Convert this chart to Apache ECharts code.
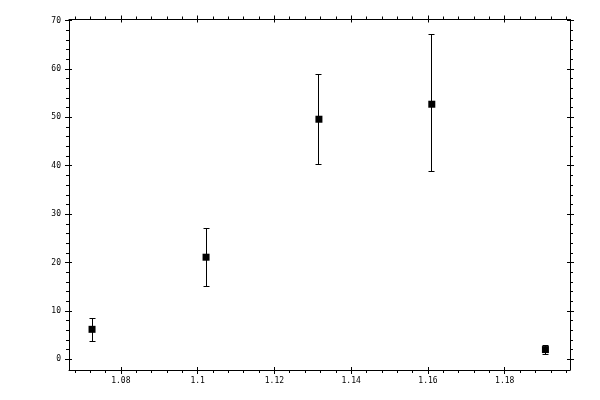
<!DOCTYPE html>
<html>
<head>
<meta charset="utf-8">
<script src="https://cdn.jsdelivr.net/npm/echarts@6/dist/echarts.min.js"></script>
<style>
  html, body { margin: 0; padding: 0; background: #fff; }
  #chart { width: 600px; height: 400px; }
</style>
</head>
<body>
<div id="chart"></div>
<script>
// 数据点
var xValues = [1.0725, 1.1022, 1.1316, 1.161, 1.1906];
var yValues = [6.2, 21.1, 49.6, 52.7, 2.02];
var yLow = [3.7, 15.1, 40.3, 38.7, 1.1];
var yHigh = [8.5, 27.0, 58.8, 67.0, 2.95];

// 刻度
var xMajor = [1.08, 1.1, 1.12, 1.14, 1.16, 1.18];
var yMajor = [0, 10, 20, 30, 40, 50, 60, 70];
var xRange = [1.0665, 1.197];
var yRange = [-2.2, 70.2];

var xMinor = [];
for (var i = 0; i <= 32; i++) {
  var v = +(1.068 + i * 0.004).toFixed(3);
  if (v <= xRange[1] && xMajor.indexOf(v) < 0) xMinor.push(v);
}
var yMinor = [];
for (var j = 1; j <= 35; j++) {
  var w = j * 2;
  if (yMajor.indexOf(w) < 0) yMinor.push(w);
}

var labelFont = { color: '#000', fontFamily: 'DejaVu Sans Mono', fontSize: 8 };

// 一条轴 = 轴线+外刻度, 内刻度, 次刻度 三层叠加
function axisSet(kind, pos, range, major, minor, showLabel) {
  var common = { type: 'value', position: pos, min: range[0], max: range[1], splitLine: { show: false }, scale: true };
  var line = Object.assign({}, common, {
    axisLine: { show: true, onZero: false, lineStyle: { color: '#000', width: 1 } },
    axisTick: { show: true, inside: false, length: 4, customValues: major, lineStyle: { color: '#000', width: 1 } },
    axisLabel: showLabel ? Object.assign({ show: true, customValues: major, margin: kind === 'x' ? 7 : 8,
      formatter: function (val) { return String(+val.toFixed(3)); } }, labelFont) : { show: false }
  });
  var inner = Object.assign({}, common, {
    axisLine: { show: false, onZero: false },
    axisTick: { show: true, inside: true, length: 3, customValues: major, lineStyle: { color: '#000', width: 1 } },
    axisLabel: { show: false }
  });
  var small = Object.assign({}, common, {
    axisLine: { show: false, onZero: false },
    axisTick: { show: true, inside: false, length: 3, customValues: minor, lineStyle: { color: '#000', width: 1 } },
    axisLabel: { show: false }
  });
  return [line, inner, small];
}

var xAxes = axisSet('x', 'bottom', xRange, xMajor, xMinor, true).concat(axisSet('x', 'top', xRange, xMajor, xMinor, false));
var yAxes = axisSet('y', 'left', yRange, yMajor, yMinor, true).concat(axisSet('y', 'right', yRange, yMajor, yMinor, false));

var errData = xValues.map(function (x, k) { return [x, yLow[k], yHigh[k]]; });
var pointData = xValues.map(function (x, k) { return [x, yValues[k]]; });

function crisp(p) { return Math.round(p - 0.5) + 0.5; }

var chart = echarts.init(document.getElementById('chart'));
chart.setOption({
  animation: false,
  backgroundColor: '#fff',
  grid: { left: 69, right: 30, top: 19.5, bottom: 30 },
  xAxis: xAxes,
  yAxis: yAxes,
  series: [
    {
      type: 'custom',
      xAxisIndex: 0,
      yAxisIndex: 0,
      data: errData,
      renderItem: function (params, api) {
        var lo = api.coord([api.value(0), api.value(1)]);
        var hi = api.coord([api.value(0), api.value(2)]);
        var cx = crisp(lo[0]);
        var y1 = crisp(lo[1]);
        var y2 = crisp(hi[1]);
        var hw = 3;
        var st = { stroke: '#000', lineWidth: 1 };
        return {
          type: 'group',
          children: [
            { type: 'line', shape: { x1: cx, y1: y1, x2: cx, y2: y2 }, style: st },
            { type: 'line', shape: { x1: cx - hw, y1: y1, x2: cx + hw, y2: y1 }, style: st },
            { type: 'line', shape: { x1: cx - hw, y1: y2, x2: cx + hw, y2: y2 }, style: st }
          ]
        };
      },
      z: 2
    },
    {
      type: 'scatter',
      xAxisIndex: 0,
      yAxisIndex: 0,
      data: pointData,
      symbol: 'rect',
      symbolSize: 7,
      itemStyle: { color: '#000', opacity: 1 },
      z: 3
    }
  ]
});
</script>
</body>
</html>
